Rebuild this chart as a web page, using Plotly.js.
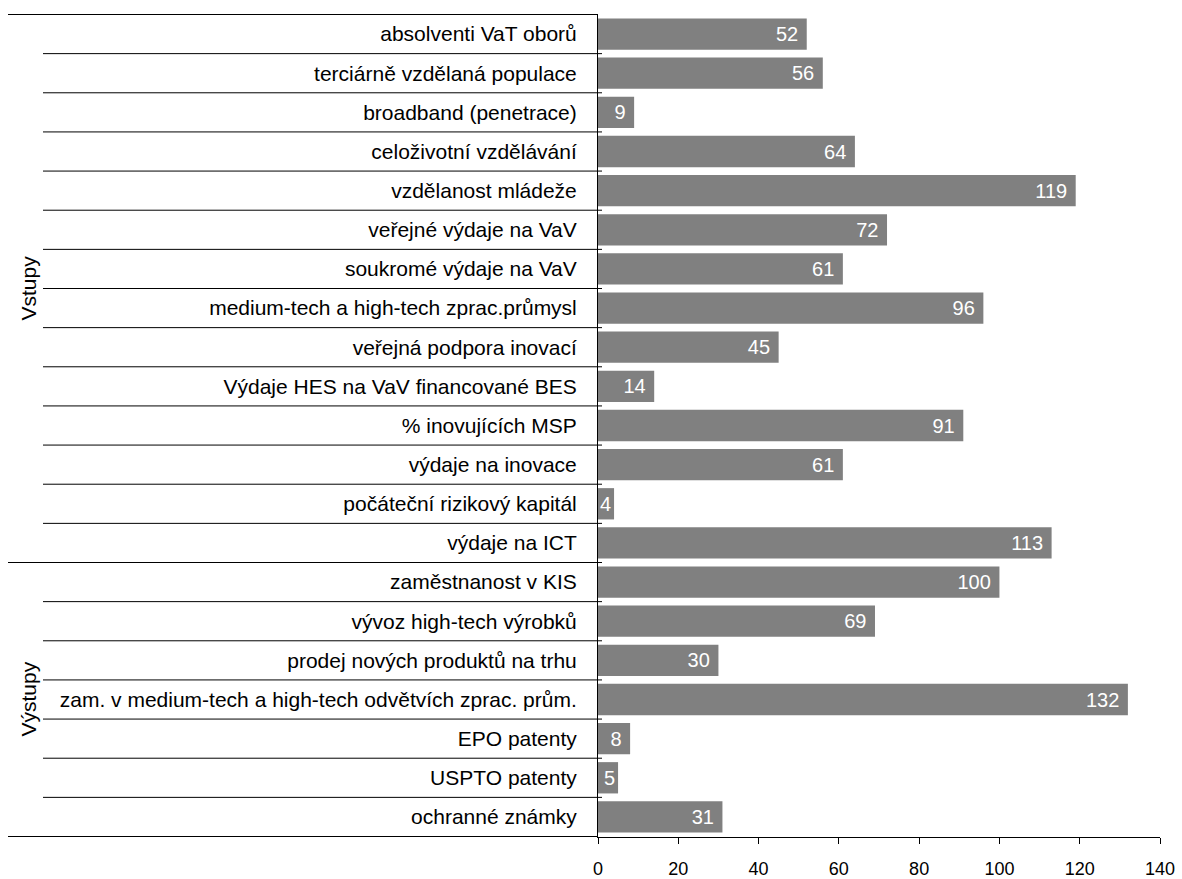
<!DOCTYPE html>
<html>
<head>
<meta charset="utf-8">
<script src="https://cdn.plot.ly/plotly-3.0.1.min.js"></script>
<style>html,body{margin:0;padding:0;background:#fff;}#chart{width:1182px;height:879px;}</style>
</head>
<body>
<div id="chart"></div>
<script>
const categories = [
  "absolventi VaT oborů",
  "terciárně vzdělaná populace",
  "broadband (penetrace)",
  "celoživotní vzdělávání",
  "vzdělanost mládeže",
  "veřejné výdaje na VaV",
  "soukromé výdaje na VaV",
  "medium-tech a high-tech zprac.průmysl",
  "veřejná podpora inovací",
  "Výdaje HES na VaV financované BES",
  "% inovujících MSP",
  "výdaje na inovace",
  "počáteční rizikový kapitál",
  "výdaje na ICT",
  "zaměstnanost v KIS",
  "vývoz high-tech výrobků",
  "prodej nových produktů na trhu",
  "zam. v medium-tech a high-tech odvětvích zprac. prům.",
  "EPO patenty",
  "USPTO patenty",
  "ochranné známky"
];
const values = [52, 56, 9, 64, 119, 72, 61, 96, 45, 14, 91, 61, 4, 113, 100, 69, 30, 132, 8, 5, 31];
const groups = ["Vstupy", "Výstupy"];
const groupSizes = [14, 7];
const xTicks = [0, 20, 40, 60, 80, 100, 120, 140];

const FONT = 'Liberation Sans, Arial, sans-serif';
const W = 1182, L = 598, R = 22;
const plotW = W - L - R;
const innerX0 = (43 - L) / plotW;
const outerX0 = (8 - L) / plotW;
const crossX1 = 4 / plotW;
const groupLabelX = (28 - L) / plotW;

const shapes = [];
const annotations = [];
const boundaries = new Set([-0.5]);
let acc = 0;
groupSizes.forEach((n, gi) => {
  const start = acc;
  acc += n;
  boundaries.add(acc - 0.5);
  annotations.push({
    xref: 'paper', yref: 'y', x: groupLabelX, y: (start + acc - 1) / 2,
    text: groups[gi], textangle: -90, showarrow: false,
    font: {family: FONT, size: 21, color: '#000'},
    xanchor: 'center', yanchor: 'middle'
  });
});
for (let i = 0; i <= categories.length; i++) {
  const yv = i - 0.5;
  const isOuter = boundaries.has(yv);
  shapes.push({
    type: 'line', xref: 'paper', yref: 'y',
    x0: isOuter ? outerX0 : innerX0, x1: (i === 0 || i === categories.length) ? 0 : crossX1,
    y0: yv, y1: yv,
    line: {color: '#000', width: 1}
  });
}

const trace = {
  type: 'bar', orientation: 'h',
  y: categories, x: values,
  marker: {color: '#808080', line: {width: 0}},
  texttemplate: values.map(v => v < 6 ? '%{x}' : '%{x}\u00a0'),
  textposition: 'inside',
  insidetextanchor: 'end',
  constraintext: 'none',
  textfont: {family: FONT, size: 20, color: '#fff'},
  hoverinfo: 'none'
};

const layout = {
  width: 1182, height: 879,
  margin: {l: L, r: R, t: 14, b: 42, pad: 0},
  paper_bgcolor: '#fff', plot_bgcolor: '#fff',
  showlegend: false,
  bargap: 0.2,
  font: {family: FONT, size: 20, color: '#000'},
  xaxis: {
    range: [0, 140], tickvals: xTicks, ticktext: xTicks.map(String),
    showgrid: false, zeroline: false, showline: true, linecolor: '#000', linewidth: 1,
    ticks: 'outside', ticklen: 6, tickcolor: '#000', tickwidth: 1,
    ticklabelstandoff: 9,
    tickfont: {family: FONT, size: 18, color: '#000'}, fixedrange: true
  },
  yaxis: {
    type: 'category', autorange: 'reversed',
    showgrid: false, zeroline: false, showline: true, linecolor: '#000', linewidth: 1,
    ticks: '', ticklabelstandoff: 16,
    tickfont: {family: FONT, size: 21, color: '#000'}, fixedrange: true
  },
  shapes: shapes,
  annotations: annotations
};

Plotly.newPlot('chart', [trace], layout, {staticPlot: true, displayModeBar: false});
</script>
</body>
</html>
